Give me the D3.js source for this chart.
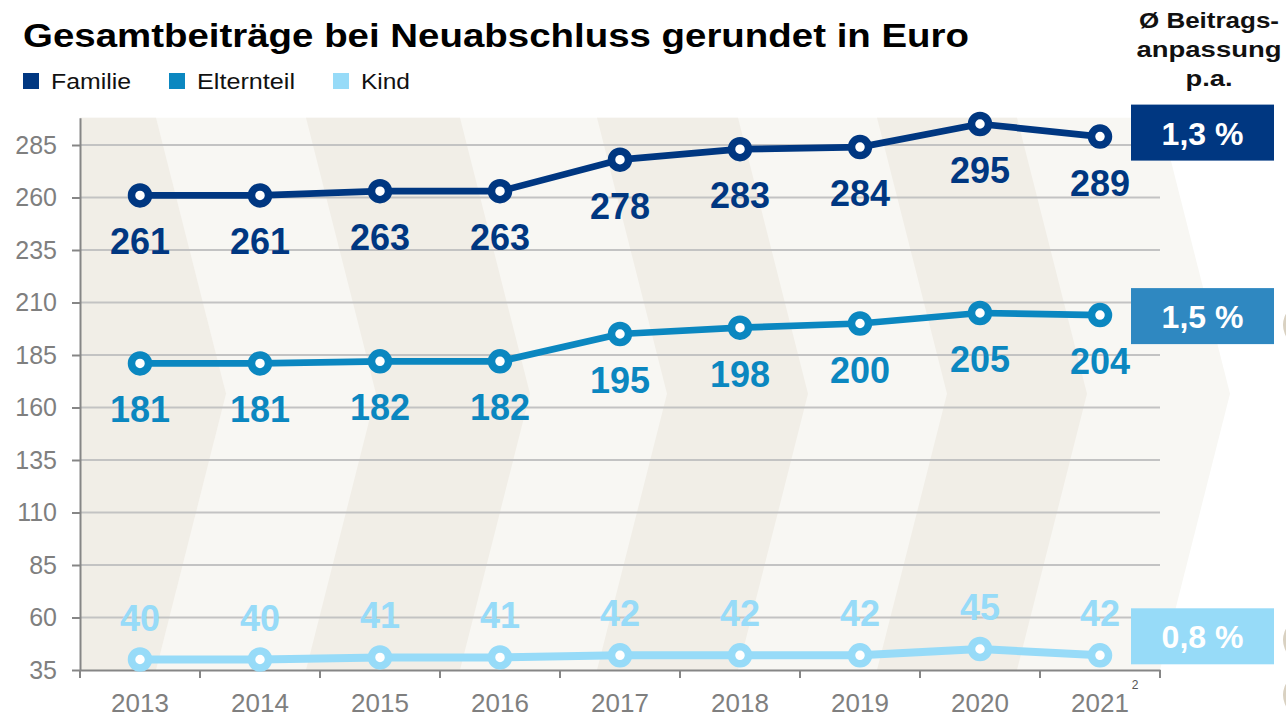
<!DOCTYPE html>
<html lang="de">
<head>
<meta charset="UTF-8">
<title>Gesamtbeiträge bei Neuabschluss</title>
<script src="https://d3js.org/d3.v7.min.js"></script>
<style>
  body { margin: 0; background: #fff; font-family: "Liberation Sans", Arial, sans-serif; }
  .axis text { fill: #7f7f7f; font-size: 25px; font-family: "Liberation Sans", Arial, sans-serif; }
  .axis path, .axis line { stroke: #868686; stroke-width: 2; }
  .grid line { stroke: #c3c3c3; stroke-width: 2; }
  .val { font-weight: bold; font-size: 36px; text-anchor: middle; }
</style>
</head>
<body>
<svg width="1286" height="717"></svg>
<script>
// data
const years = ["2013", "2014", "2015", "2016", "2017", "2018", "2019", "2020", "2021"];
const familie = [261, 261, 263, 263, 278, 283, 284, 295, 289];
const elternteil = [181, 181, 182, 182, 195, 198, 200, 205, 204];
const kind = [40, 40, 41, 41, 42, 42, 42, 45, 42];
const seriesNames = ["Familie", "Elternteil", "Kind"];
const rates = ["1,3 %", "1,5 %", "0,8 %"];
const yTicks = [35, 60, 85, 110, 135, 160, 185, 210, 235, 260, 285];

const colors = ["#003781", "#0b87c0", "#97dbf8"];
const boxColors = ["#003781", "#2f88c1", "#97dbf8"];

const svg = d3.select("svg");

const left = 80, right = 1160, bottom = 670;
const x = d3.scaleBand().domain(years).range([left, right]);
const y = d3.scaleLinear().domain([35, 298]).range([bottom, bottom - 263 * 2.1]);
const yTop = y(298);

// chevron background
const mid = (yTop + bottom) / 2, off = 70;
const edges = [156, 306, 460, 597, 738, 877, 1017, 1160];
const bg = svg.append("g");
bg.append("polygon")
  .attr("points", [[left, yTop], [left, bottom], [edges[7], bottom], [edges[7] + off, mid], [edges[7], yTop]].join(" "))
  .attr("fill", "#f8f7f3");
function band(a, b) {
  const pa = a === null
    ? [[left, yTop], [left, bottom]]
    : [[a, yTop], [a + off, mid], [a, bottom]];
  return pa.concat([[b, bottom], [b + off, mid], [b, yTop]]);
}
[[null, edges[0]], [edges[1], edges[2]], [edges[3], edges[4]], [edges[5], edges[6]]].forEach(d => {
  bg.append("polygon").attr("points", band(d[0], d[1]).join(" ")).attr("fill", "#f1eee7");
});

// grid
svg.append("g").attr("class", "grid")
  .selectAll("line").data(yTicks.slice(1)).join("line")
  .attr("x1", left).attr("x2", right)
  .attr("y1", d => y(d)).attr("y2", d => y(d));

// axes
svg.append("g").attr("class", "axis")
  .attr("transform", `translate(${left},0)`)
  .call(d3.axisLeft(y).tickValues(yTicks).tickSize(8).tickSizeOuter(0).tickPadding(15));

const xAxis = svg.append("g").attr("class", "axis")
  .attr("transform", `translate(0,${bottom})`)
  .call(d3.axisBottom(x).tickSize(0).tickSizeOuter(0).tickPadding(24));
xAxis.selectAll(".tick line").remove();
xAxis.selectAll(".tick text").style("font-size", "26px");
xAxis.selectAll(".sep").data(years.map(d => x(d)).concat([right])).join("line")
  .attr("class", "sep")
  .attr("x1", d => d).attr("x2", d => d)
  .attr("y1", 0).attr("y2", 8);
svg.append("text").attr("x", 1135).attr("y", 689)
  .attr("font-size", 12).attr("fill", "#555").attr("text-anchor", "middle").text("2");

// series
const series = [familie, elternteil, kind].map((v, i) => ({
  name: seriesNames[i], values: v, color: colors[i],
  width: i === 2 ? 8 : 6.7, below: i !== 2
}));
const cx = d => x(d) + x.bandwidth() / 2;
const line = d3.line().x((d, i) => cx(years[i])).y(d => y(d));

series.forEach(s => {
  const g = svg.append("g");
  g.append("path").attr("d", line(s.values))
    .attr("fill", "none").attr("stroke", s.color).attr("stroke-width", s.width)
    .attr("stroke-linejoin", "round");
  g.selectAll("circle").data(s.values).join("circle")
    .attr("cx", (d, i) => cx(years[i])).attr("cy", d => y(d))
    .attr("r", 8.5).attr("fill", "#fff")
    .attr("stroke", s.color).attr("stroke-width", 7.5);
  g.selectAll(".val").data(s.values).join("text")
    .attr("class", "val")
    .attr("x", (d, i) => cx(years[i]))
    .attr("y", d => y(d) + (s.below ? 59 : -29))
    .attr("fill", s.color)
    .text(d => d);
});

// rate boxes
const boxShift = [-4, 1, -19];
series.forEach((s, i) => {
  const cy = y(s.values[s.values.length - 1]) + boxShift[i];
  svg.append("rect").attr("x", 1131).attr("y", cy - 28)
    .attr("width", 143).attr("height", 56).attr("fill", boxColors[i]);
  svg.append("text").attr("x", 1202.5).attr("y", cy + 12)
    .attr("text-anchor", "middle").attr("font-size", 32).attr("font-weight", "bold")
    .attr("fill", "#fff").text(rates[i]);
});

// partly hidden icons at the right edge
svg.append("g").selectAll("circle").data([325, 640, 695]).join("circle")
  .attr("cx", 1306).attr("cy", d => d).attr("r", 23).attr("fill", "#d9d1c1");

// header on the right (the source font runs wider, so stretch to its width)
const head = ["Ø Beitrags-", "anpassung", "p.a."];
const headW = [140, 145, 47];
svg.append("g").selectAll("text").data(head).join("text")
  .attr("x", (d, i) => 1209 - headW[i] / 2).attr("y", (d, i) => 28 + i * 29)
  .attr("font-size", 22.5).attr("font-weight", "bold").attr("fill", "#111")
  .attr("textLength", (d, i) => headW[i]).attr("lengthAdjust", "spacingAndGlyphs")
  .text(d => d);

// title
svg.append("text").attr("x", 23).attr("y", 47)
  .attr("font-size", 34).attr("font-weight", "bold").attr("fill", "#000")
  .attr("textLength", 946).attr("lengthAdjust", "spacingAndGlyphs")
  .text("Gesamtbeiträge bei Neuabschluss gerundet in Euro");

// legend
const legX = [23, 169, 333];
const legW = [80, 98, 49];
const leg = svg.append("g").selectAll("g").data(seriesNames).join("g")
  .attr("transform", (d, i) => `translate(${legX[i]},73)`);
leg.append("rect").attr("width", 16).attr("height", 16).attr("fill", (d, i) => colors[i]);
leg.append("text").attr("x", 28).attr("y", 15.5).attr("font-size", 22.5).attr("fill", "#111")
  .attr("textLength", (d, i) => legW[i]).attr("lengthAdjust", "spacingAndGlyphs")
  .text(d => d);
</script>
</body>
</html>
